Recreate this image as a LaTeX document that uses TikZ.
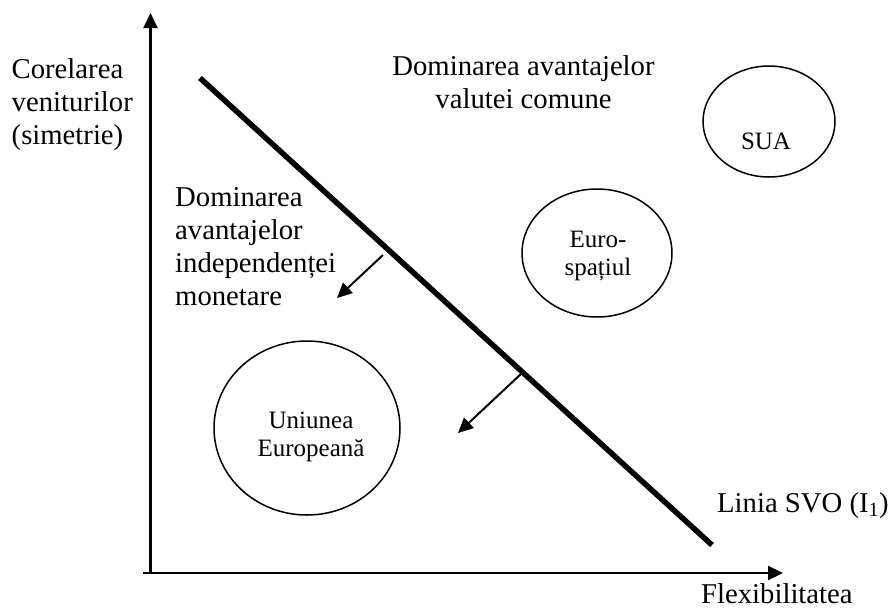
\documentclass[tikz,border=0pt]{standalone}
\usepackage{fontspec}
\setmainfont{Liberation Serif}
\usetikzlibrary{arrows.meta,shapes.geometric}
\begin{document}
\begin{tikzpicture}[x=1pt,y=-1pt,
  axis/.style={line width=2.2pt,-{Triangle[length=15pt,width=14pt]}},
  shiftarrow/.style={line width=2pt,-{Triangle[length=15pt,width=14pt]}},
  svo/.style={line width=5.5pt},
  region/.style={draw,ellipse,line width=1.5pt,inner sep=0pt},
  intext/.style={inner sep=0pt,align=center,font=\fontsize{25}{28.5}\selectfont},
  lbl/.style={font=\fontsize{28.7}{33}\selectfont,inner sep=0pt}]
\useasboundingbox (0,0) rectangle (892,608);
% axes
\coordinate (o) at (150.5,573);
\coordinate (ytop) at (150.5,13);
\coordinate (xleft) at (143,573);
\coordinate (xright) at (783,573);
\draw[axis] (o) -- (ytop);
\draw[axis] (xleft) -- (xright);
% SVO line
\coordinate (s1) at (200,78);
\coordinate (s2) at (712,545);
\draw[svo] (s1) -- (s2);
% shift arrows
\coordinate (a1s) at (383,255);
\coordinate (a1e) at (337,298);
\coordinate (a2s) at (522,373);
\coordinate (a2e) at (458,433);
\draw[shiftarrow] (a1s) -- (a1e);
\draw[shiftarrow] (a2s) -- (a2e);
% ellipses
\node[region,minimum width=132pt,minimum height=111pt] (sua) at (769,121.5) {};
\node[region,minimum width=150pt,minimum height=128pt] (euro) at (597,253) {};
\node[region,minimum width=186pt,minimum height=174pt] (ue) at (307,428) {};
\node[intext,anchor=base] (suat) at (766,149) {SUA};
\node[intext,anchor=north] (eurot) at (598,230.5) {Euro-\\spațiul};
\node[intext,anchor=north] (uet) at (311,411.5) {Uniunea\\Europeană};
% labels
\node[lbl,align=left,anchor=north west] (ylab) at (11.5,58.4) {Corelarea\\veniturilor\\(simetrie)};
\node[lbl,align=center,anchor=north] (top) at (523.5,55.4) {Dominarea avantajelor\\valutei comune};
\node[lbl,align=left,anchor=north west] (left) at (175,187.4) {Dominarea\\avantajelor\\independenței\\monetare};
\node[lbl,anchor=base west] (linia) at (717,512) {Linia SVO (I\textsubscript{1})};
\node[lbl,anchor=base west] (xlab) at (701,603) {Flexibilitatea};
\end{tikzpicture}
\end{document}
